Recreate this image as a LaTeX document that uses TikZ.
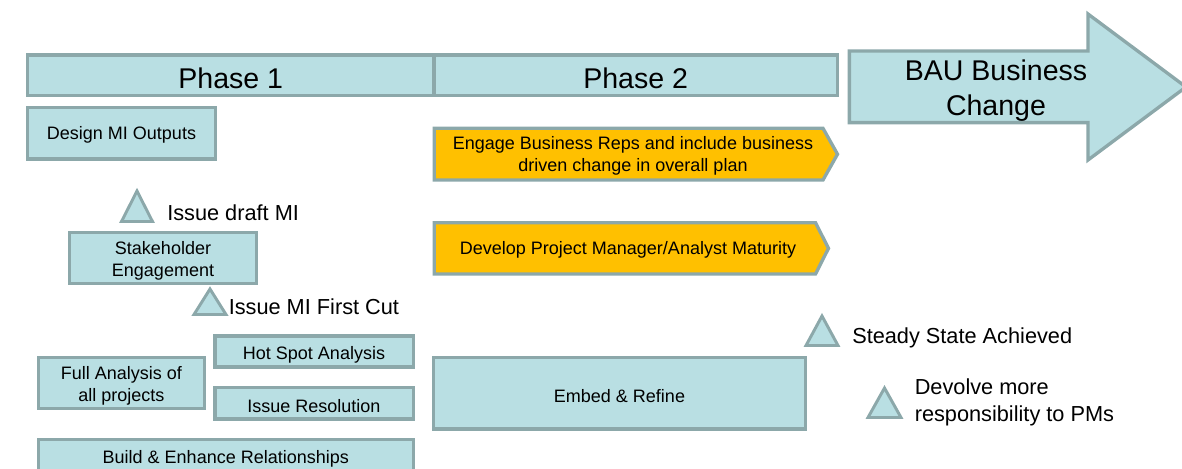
\documentclass[tikz,border=0pt]{standalone}
\usepackage{fontspec}
\setmainfont{Liberation Sans}
\definecolor{bfill}{HTML}{B9DFE3}
\definecolor{bline}{HTML}{8CA8AA}
\definecolor{ofill}{HTML}{FFC000}
\begin{document}
\begin{tikzpicture}[x=0.75pt,y=-0.75pt,
 shp/.style={draw=bline, line width=2.5pt, fill=bfill},
 oshp/.style={draw=bline, line width=2.5pt, fill=ofill},
 ms/.style={draw=bline, line width=2.2pt, fill=bfill},
 txt/.style={font=\fontsize{13.5}{16.3}\selectfont, align=center, inner sep=0pt, yshift=-1.5pt},
 big/.style={font=\fontsize{21.4}{26.5}\selectfont, align=center, inner sep=0pt, yshift=-1.8pt},
 lbl/.style={font=\fontsize{16.3}{20.3}\selectfont, align=left, anchor=west, inner sep=0pt, yshift=-0.8pt}]
\useasboundingbox (0,0) rectangle (1182,468);
% phase bars
\draw[shp] (27.7,55) rectangle (434,95.6);
\draw[shp] (434,55) rectangle (837.3,95.6);
\node[big] (p1) at (230.8,76) {Phase 1};
\node[big] (p2) at (635.6,76) {Phase 2};
% BAU arrow
\draw[shp] (849.4,51) -- (1088,51) -- (1088,14) -- (1186,87) -- (1088,160) -- (1088,122.6) -- (849.4,122.6) -- cycle;
\node[big] (bau) at (996,88) {BAU Business\\Change};
% phase 1 boxes
\draw[shp] (27.7,107.3) rectangle (215.3,159);
\node[txt] (design) at (121.5,133) {Design MI Outputs};
\draw[shp] (69.7,232.7) rectangle (256.3,283.3);
\node[txt] (stake) at (163,259) {Stakeholder\\Engagement};
\draw[shp] (214.9,336) rectangle (413.3,367);
\node[txt] (hot) at (314,352.5) {Hot Spot Analysis};
\draw[shp] (38.4,357.4) rectangle (204.3,408.3);
\node[txt] (full) at (121.3,384) {Full Analysis of\\all projects};
\draw[shp] (214.9,387.7) rectangle (413.3,419);
\node[txt] (issue) at (314,404.5) {Issue Resolution};
\draw[shp] (38.4,439.4) rectangle (413.3,490);
\node[txt] (build) at (225.8,456.7) {Build \& Enhance Relationships};
% milestones phase 1
\draw[ms] (137,191) -- (152.5,221.5) -- (121.5,221.5) -- cycle;
\node[lbl] (m1) at (167,212) {Issue draft MI};
\draw[ms] (210,289) -- (226,314.5) -- (194,314.5) -- cycle;
\node[lbl] (m2) at (228.5,306) {Issue MI First Cut};
% phase 2
\draw[oshp] (434.3,128.3) -- (823,128.3) -- (837.5,154.2) -- (823,180) -- (434.3,180) -- cycle;
\node[txt] (engage) at (633,154.2) {Engage Business Reps and include business\\driven change in overall plan};
\draw[oshp] (434.3,222.7) -- (815.5,222.7) -- (828.5,248.3) -- (815.5,274) -- (434.3,274) -- cycle;
\node[txt] (develop) at (628,248.3) {Develop Project Manager/Analyst Maturity};
\draw[shp] (433.7,357.7) rectangle (805.3,429);
\node[txt] (embed) at (619.5,394) {Embed \& Refine};
% milestones right
\draw[ms] (822,316) -- (838,345.5) -- (806,345.5) -- cycle;
\node[lbl] (m3) at (852,337) {Steady State Achieved};
\draw[ms] (884.5,388) -- (901,417.5) -- (868,417.5) -- cycle;
\node[lbl] (m4) at (914.5,401.5) {Devolve more\\responsibility to PMs};
\end{tikzpicture}
\end{document}
